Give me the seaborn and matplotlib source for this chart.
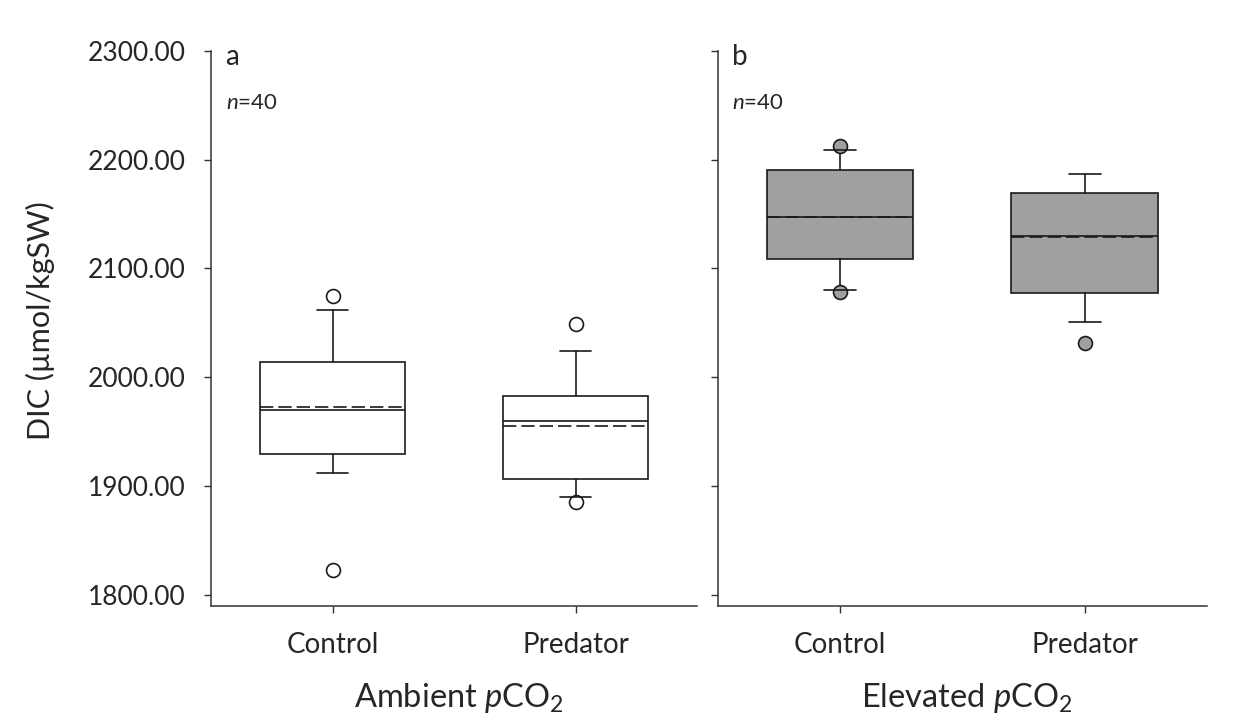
import matplotlib
matplotlib.use("Agg")
import matplotlib.pyplot as plt
import seaborn as sns

# --- data (DIC, umol/kgSW) ---
treatments = ["Control", "Predator"]
panel_letters = ["a", "b"]
group_labels = [r"Ambient $\mathit{p}$CO$_\mathregular{2}$",
                r"Elevated $\mathit{p}$CO$_\mathregular{2}$"]

amb_q1 = [1929, 1906.5]
amb_q3 = [2014, 1983]
amb_med = [1970, 1960]
amb_mean = [1972.5, 1955]
amb_whislo = [1912, 1889.5]
amb_whishi = [2061.5, 2024]
amb_fliers = [[2075, 1823], [2049, 1885]]

elev_q1 = [2108.5, 2077]
elev_q3 = [2190, 2169]
elev_med = [2147, 2130]
elev_mean = [2147.5, 2128.5]
elev_whislo = [2080, 2050.5]
elev_whishi = [2209, 2187]
elev_fliers = [[2212, 2078], [2031]]

y_ticks = [1800, 1900, 2000, 2100, 2200, 2300]


def make_stats(q1, q3, med, mean, lo, hi, fliers):
    stats = []
    for i in range(len(q1)):
        stats.append(dict(q1=q1[i], q3=q3[i], med=med[i], mean=mean[i],
                          whislo=lo[i], whishi=hi[i], fliers=fliers[i]))
    return stats


sns.set_theme(style="ticks")
plt.rcParams["font.family"] = ["Lato", "DejaVu Sans"]
plt.rcParams["mathtext.fontset"] = "custom"
plt.rcParams["mathtext.rm"] = "Lato"
plt.rcParams["mathtext.it"] = "Lato:italic"

fig = plt.figure(figsize=(12.39, 7.21), dpi=100)
ax_a = fig.add_axes([0.1703, 0.160, 0.3923, 0.7697])
ax_b = fig.add_axes([0.5793, 0.160, 0.3949, 0.7697])

panels = [
    (ax_a, make_stats(amb_q1, amb_q3, amb_med, amb_mean, amb_whislo, amb_whishi, amb_fliers), "white"),
    (ax_b, make_stats(elev_q1, elev_q3, elev_med, elev_mean, elev_whislo, elev_whishi, elev_fliers), "#a0a0a0"),
]

lw = 1.2
for i, (ax, stats, fill) in enumerate(panels):
    ax.bxp(stats, positions=[1, 2], widths=0.6, capwidths=0.13,
           patch_artist=True, showmeans=True, meanline=True,
           boxprops=dict(facecolor=fill, edgecolor="#1a1a1a", linewidth=lw),
           medianprops=dict(color="#1a1a1a", linewidth=lw),
           meanprops=dict(color="#1a1a1a", linewidth=lw, linestyle=(0, (8, 3))),
           whiskerprops=dict(color="#1a1a1a", linewidth=lw),
           capprops=dict(color="#1a1a1a", linewidth=lw, zorder=3),
           flierprops=dict(marker="o", markersize=10, markerfacecolor=fill,
                           markeredgecolor="#1a1a1a", markeredgewidth=lw))
    ax.set_xlim(0.5, 2.5)
    ax.set_ylim(1790, 2300)
    ax.set_yticks(y_ticks)
    ax.set_xticks([1, 2])
    ax.set_xticklabels(treatments, fontsize=20)
    ax.tick_params(axis="both", direction="out", length=5, width=1, color="#333333")
    ax.tick_params(axis="x", pad=14)
    ax.tick_params(axis="y", pad=13, labelsize=19)
    sns.despine(ax=ax)
    for s in ["left", "bottom"]:
        ax.spines[s].set_linewidth(1.1)
        ax.spines[s].set_color("#333333")
    ax.set_facecolor("white")

    ax.text(0.03, 0.975, panel_letters[i], transform=ax.transAxes,
            fontsize=20, va="baseline", ha="left")
    ax.text(0.03, 0.895, r"$\mathit{n}$=40", transform=ax.transAxes,
            fontsize=16, va="baseline", ha="left")
    ax.text(0.51, -0.183, group_labels[i], transform=ax.transAxes,
            fontsize=23.5, va="baseline", ha="center")

ax_a.yaxis.set_major_formatter(matplotlib.ticker.FormatStrFormatter("%.2f"))
ax_b.set_yticklabels([])

fig.text(40 / 1239, 1 - 321 / 721, "DIC (µmol/kgSW)", rotation=90,
         fontsize=22, va="center", ha="center")

fig.savefig("out.png", dpi=100, facecolor="white")
